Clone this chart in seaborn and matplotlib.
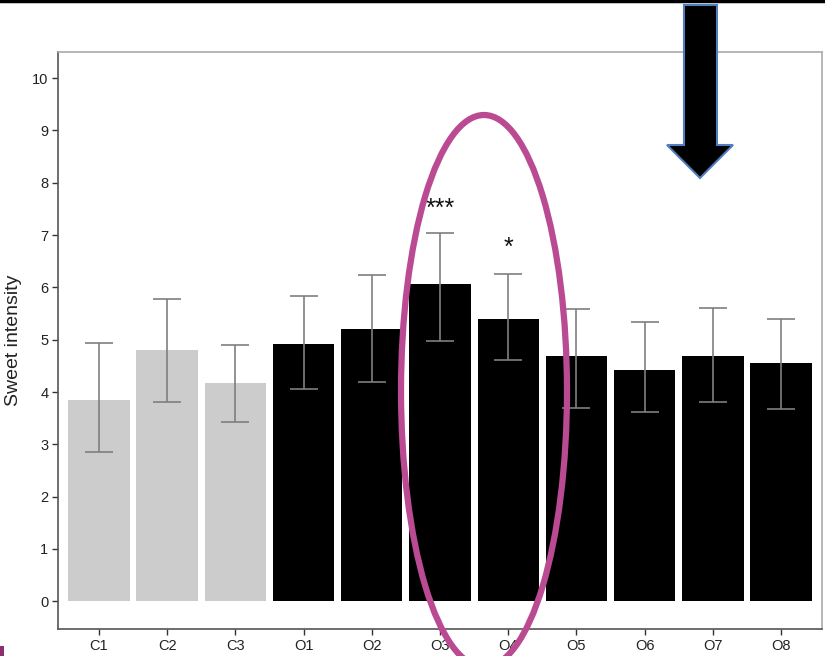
import matplotlib
matplotlib.use("Agg")
import matplotlib.pyplot as plt
import matplotlib.transforms as mtrans
import seaborn as sns
import pandas as pd
import numpy as np
from matplotlib.patches import Ellipse, Polygon, Rectangle
from matplotlib.lines import Line2D

categories = ["C1", "C2", "C3", "O1", "O2", "O3", "O4", "O5", "O6", "O7", "O8"]
groups = ["C", "C", "C", "O", "O", "O", "O", "O", "O", "O", "O"]
means = [3.84, 4.81, 4.18, 4.92, 5.21, 6.07, 5.40, 4.68, 4.43, 4.68, 4.56]
err_upper = [4.94, 5.78, 4.90, 5.84, 6.23, 7.04, 6.26, 5.59, 5.34, 5.61, 5.40]
err_lower = [2.85, 3.80, 3.42, 4.06, 4.19, 4.98, 4.62, 3.70, 3.62, 3.80, 3.68]
stars = {"O3": "***", "O4": "*"}
star_y = {"O3": 7.5, "O4": 6.75}
yticks = list(range(0, 11))

df = pd.DataFrame({"cat": categories, "group": groups, "mean": means})

sns.set_style("white")
plt.rcParams["font.family"] = ["Liberation Sans", "DejaVu Sans"]

fig = plt.figure(figsize=(8.25, 6.56), dpi=100)
ax = fig.add_axes([58 / 825, 1 - 629 / 656, (822 - 58) / 825, (629 - 52) / 656])

sns.barplot(data=df, x="cat", y="mean", hue="group",
            palette={"C": "#CCCCCC", "O": "#000000"}, dodge=False,
            width=0.9, errorbar=None, legend=False, ax=ax, linewidth=0,
            saturation=1)

xs = np.arange(len(categories))
m = np.array(means)
yerr = np.vstack([m - np.array(err_lower), np.array(err_upper) - m])
ax.errorbar(xs, m, yerr=yerr, fmt="none", ecolor="#7F7F7F", elinewidth=1.2,
            capsize=10, capthick=1.2, zorder=5)

for k, s in stars.items():
    i = categories.index(k)
    ax.text(i, star_y[k], s, ha="center", va="center", fontsize=18, color="#111111")

ax.set_xlim(-0.6, 10.6)
ax.set_ylim(-0.53, 10.5)
ax.set_yticks(yticks)
ax.set_yticklabels([str(t) for t in yticks])
ax.set_xlabel("")
ax.set_ylabel("Sweet intensity", fontsize=14, color="#222222", labelpad=7)
ax.tick_params(axis="both", which="both", length=4, width=1, color="#333333",
               labelsize=10.5, labelcolor="#222222", direction="out", pad=3,
               left=True, bottom=True)
for side in ["left", "bottom"]:
    ax.spines[side].set_color("#555555")
    ax.spines[side].set_linewidth(1.2)
for side in ["top", "right"]:
    ax.spines[side].set_color("#AAAAAA")
    ax.spines[side].set_linewidth(1.2)

# overlay annotations (figure pixel coordinates)
H = 656
def fy(y):
    return H - y

ident = mtrans.IdentityTransform()
ell = Ellipse((484, fy(391)), 166, 552, angle=0, fill=False,
              edgecolor="#BA4A92", linewidth=4.5, transform=ident, zorder=10)
ell.set_figure(fig)
fig.artists.append(ell)

arrow_pts = [(684, fy(5)), (717, fy(5)), (717, fy(145)), (733, fy(145)),
             (700, fy(178)), (667, fy(145)), (684, fy(145))]
arr = Polygon(arrow_pts, closed=True, facecolor="black", edgecolor="#4F7FC0",
              linewidth=1.5, transform=ident, zorder=11)
arr.set_figure(fig)
fig.artists.append(arr)

fig.lines.append(Line2D([0, 1], [1 - 1 / H, 1 - 1 / H], transform=fig.transFigure,
                        color="black", linewidth=2.5))
sq = Rectangle((0, 0), 4 / 825, 10 / H, transform=fig.transFigure,
               facecolor="#8B2F6E", edgecolor="none")
fig.patches.append(sq)

fig.savefig("out.png", dpi=100)
